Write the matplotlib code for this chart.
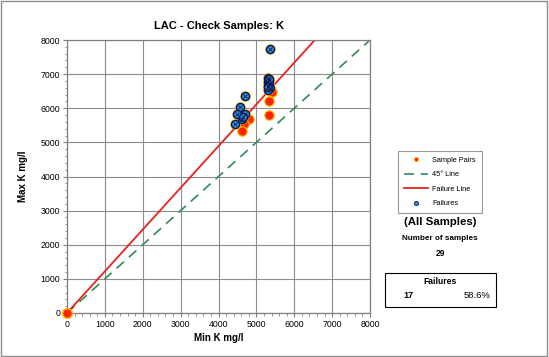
import matplotlib.pyplot as plt
from matplotlib.lines import Line2D
from matplotlib.patches import Rectangle

plt.rcParams["font.family"] = ["Liberation Sans", "DejaVu Sans"]

# --- data ---
min_k = [0, 0, 0, 0, 0, 0,
         4810, 4680, 4630, 5400, 5330, 5330,
         5350, 5320, 5330, 5300, 5340, 5310, 5350, 5320, 5330, 5300,
         4697, 4565, 4494, 4697, 4609, 4433, 4650]
max_k = [0, 0, 0, 0, 0, 0,
         5690, 5530, 5340, 6490, 6220, 5810,
         7740, 6880, 6820, 6760, 6700, 6640, 6580, 6540, 6850, 6620,
         6360, 6030, 5840, 5840, 5680, 5540, 5730]
fail_slope = 1.2225
axis_max = 8000
n_samples = 29

fail_x = [x for x, y in zip(min_k, max_k) if y > fail_slope * x]
fail_y = [y for x, y in zip(min_k, max_k) if y > fail_slope * x]
n_fail = len(fail_x)

fig = plt.figure(figsize=(5.49, 3.57), dpi=100)
ax = fig.add_axes([67 / 549, 1 - 313 / 357, 303 / 549, 273 / 357])

# lines
ax.plot([0, axis_max], [0, axis_max], color="#2e8b57", lw=1.2, ls=(0, (6, 4)), zorder=2)
ax.plot([0, axis_max / fail_slope], [0, axis_max], color="#e8221b", lw=1.3, zorder=2)

# samples + failures
ax.plot(min_k, max_k, ls="none", marker="o", ms=6.8, mfc="#ff2200", mec="#ffc000",
        mew=0.8, zorder=3, clip_on=False)
ax.plot(fail_x, fail_y, ls="none", marker="o", ms=5.8, mfc="#2a90e0", mec="#101850",
        mew=1.0, zorder=4)
ax.plot(fail_x, fail_y, ls="none", marker="x", ms=3.4, mec="#101850", mew=0.6, zorder=5)

ax.set_xlim(0, axis_max)
ax.set_ylim(0, axis_max)
ax.set_xticks(range(0, axis_max + 1, 1000))
ax.set_yticks(range(0, axis_max + 1, 1000))
ax.set_xticks(range(0, axis_max + 1, 200), minor=True)
ax.set_yticks(range(0, axis_max + 1, 200), minor=True)
ax.tick_params(labelsize=6.3, length=3, color="#808080", pad=2)
ax.tick_params(which="minor", length=1.8, color="#808080")
ax.grid(True, color="#8c8c8c", lw=0.8)
ax.set_axisbelow(True)
for s in ax.spines.values():
    s.set_color("#808080")
    s.set_linewidth(0.9)

ax.set_title("LAC - Check Samples: K", fontsize=8, fontweight="bold", pad=8)
ax.set_xlabel("Min K mg/l", fontsize=7, fontweight="bold", labelpad=3)
ax.set_ylabel("Max K mg/l", fontsize=7, fontweight="bold", labelpad=9)

# legend
handles = [
    Line2D([], [], ls="none", marker="o", ms=3, mfc="#ff2200", mec="#ffc000", mew=0.6),
    Line2D([], [], color="#2e8b57", lw=1.2, ls=(0, (6, 4))),
    Line2D([], [], color="#e8221b", lw=1.3),
    Line2D([], [], ls="none", marker="o", ms=3, mfc="#2a90e0", mec="#101850", mew=0.6),
]
labels = ["Sample Pairs", "45° Line", "Failure Line", "Failures"]
leg = fig.legend(handles, labels, loc="center",
                 bbox_to_anchor=(440 / 549, 1 - 182 / 357), fontsize=5.3,
                 frameon=True, fancybox=False, handlelength=3.2, labelspacing=1.0,
                 borderpad=0.8, handletextpad=0.6)
leg.get_frame().set_edgecolor("#808080")
leg.get_frame().set_linewidth(0.8)

# summary texts
fig.text(440 / 549, 1 - 222 / 357, "(All Samples)", fontsize=8.2, fontweight="bold",
         ha="center", va="center")
fig.text(440 / 549, 1 - 239 / 357, "Number of samples", fontsize=5.9, fontweight="bold",
         ha="center", va="center")
fig.text(440 / 549, 1 - 253 / 357, str(n_samples), fontsize=6.2, fontweight="bold",
         ha="center", va="center")

fig.patches.append(Rectangle((385 / 549, 1 - 307 / 357), 111 / 549, 34 / 357,
                             transform=fig.transFigure, fill=False, ec="black", lw=0.8))
fig.text(440 / 549, 1 - 281 / 357, "Failures", fontsize=6.2, fontweight="bold",
         ha="center", va="center")
fig.text(408 / 549, 1 - 295 / 357, str(n_fail), fontsize=6.5, fontweight="bold",
         ha="center", va="center")
fig.text(491 / 549, 1 - 295 / 357, f"{100 * n_fail / n_samples:.1f}%", fontsize=6.8,
         ha="right", va="center")

# outer chart border
fig.patches.append(Rectangle((0.002, 0.003), 0.995, 0.994, transform=fig.transFigure,
                             fill=False, ec="#8c8c8c", lw=1.0))

fig.savefig("out.png", dpi=100)
